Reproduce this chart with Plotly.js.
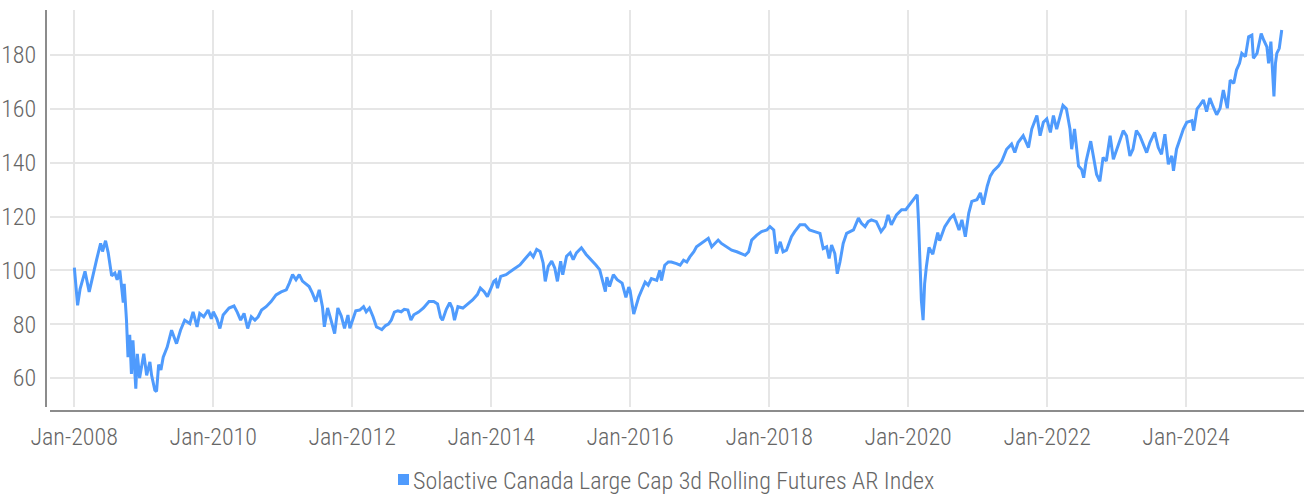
<!DOCTYPE html>
<html><head><meta charset="utf-8">
<script src="https://cdn.plot.ly/plotly-3.0.1.min.js"></script>
<style>html,body{margin:0;padding:0;background:#fff}#chart{width:1304px;height:495px}</style>
</head><body><div id="chart"></div>
<script>
const seriesName = "Solactive Canada Large Cap 3d Rolling Futures AR Index";

const dates = [
 "2008-01-02","2008-01-19","2008-02-01","2008-02-27","2008-03-20","2008-04-10","2008-04-28","2008-05-19","2008-05-29","2008-06-14","2008-06-28","2008-07-16","2008-08-02","2008-08-14","2008-08-28","2008-09-15","2008-09-20","2008-10-02","2008-10-10","2008-10-19","2008-10-28","2008-11-05","2008-11-20","2008-11-28","2008-12-10",
 "2009-01-01","2009-01-16","2009-02-02","2009-02-11","2009-02-28","2009-03-09","2009-03-20","2009-04-01","2009-04-13","2009-05-04","2009-05-27","2009-06-22","2009-07-13","2009-08-04","2009-08-31","2009-09-17","2009-10-08","2009-10-22","2009-11-12","2009-12-05","2009-12-22",
 "2010-01-01","2010-01-20","2010-02-05","2010-02-22","2010-03-25","2010-04-20","2010-05-07","2010-05-25","2010-06-12","2010-07-01","2010-07-20","2010-08-08","2010-08-25","2010-09-12","2010-10-06","2010-11-01","2010-11-27","2010-12-24",
 "2011-01-20","2011-02-05","2011-02-22","2011-03-12","2011-03-29","2011-04-15","2011-05-02","2011-05-20","2011-06-06","2011-06-24","2011-07-12","2011-07-29","2011-08-08","2011-08-25","2011-09-12","2011-10-01","2011-10-18","2011-11-05","2011-11-22","2011-12-10","2011-12-20",
 "2012-01-05","2012-01-20","2012-02-10","2012-03-01","2012-03-15","2012-04-01","2012-04-20","2012-05-08","2012-05-25","2012-06-05","2012-06-25","2012-07-10","2012-07-25","2012-08-10","2012-08-28","2012-09-15","2012-10-01","2012-10-20","2012-11-05","2012-11-20","2012-12-15",
 "2013-01-10","2013-02-08","2013-03-05","2013-03-25","2013-04-10","2013-04-20","2013-05-10","2013-05-28","2013-06-10","2013-06-22","2013-07-10","2013-08-05","2013-09-01","2013-09-25","2013-10-20","2013-11-05","2013-11-25","2013-12-12","2013-12-31",
 "2014-01-15","2014-01-25","2014-02-03","2014-02-20","2014-03-20","2014-04-25","2014-06-01","2014-06-25","2014-07-25","2014-08-10","2014-08-28","2014-09-15","2014-10-01","2014-10-12","2014-10-28","2014-11-15","2014-12-01","2014-12-15",
 "2015-01-01","2015-01-12","2015-02-01","2015-02-20","2015-03-08","2015-03-25","2015-04-20","2015-05-15","2015-06-10","2015-07-05","2015-07-25","2015-08-24","2015-09-01","2015-09-15","2015-10-05","2015-10-25","2015-11-20","2015-12-10","2015-12-25",
 "2016-01-01","2016-01-20","2016-02-05","2016-02-15","2016-03-01","2016-03-20","2016-04-05","2016-04-22","2016-05-20","2016-06-05","2016-06-14","2016-07-01","2016-07-20","2016-08-05","2016-09-01","2016-09-20","2016-10-08","2016-10-25","2016-11-10","2016-12-01","2016-12-15",
 "2017-01-10","2017-02-08","2017-02-15","2017-03-05","2017-03-20","2017-04-08","2017-04-25","2017-05-22","2017-06-18","2017-07-15","2017-08-10","2017-08-28","2017-09-15","2017-10-01","2017-10-28","2017-11-22","2017-12-20",
 "2018-01-05","2018-01-25","2018-02-08","2018-02-28","2018-03-15","2018-04-02","2018-04-28","2018-05-15","2018-06-12","2018-07-08","2018-08-01","2018-08-28","2018-09-25","2018-10-12","2018-10-30","2018-11-12","2018-11-25","2018-12-12","2018-12-25",
 "2019-01-08","2019-01-25","2019-02-12","2019-03-01","2019-03-20","2019-04-15","2019-05-01","2019-05-20","2019-06-05","2019-06-22","2019-07-18","2019-08-12","2019-09-01","2019-09-18","2019-10-05","2019-11-01","2019-11-28","2019-12-20",
 "2020-01-10","2020-01-28","2020-02-18","2020-02-25","2020-03-05","2020-03-11","2020-03-20","2020-03-28","2020-04-06","2020-04-20","2020-05-10","2020-06-05","2020-06-15","2020-07-12","2020-08-10","2020-08-28","2020-09-25","2020-10-10","2020-10-28","2020-11-15","2020-12-01","2020-12-28",
 "2021-01-15","2021-01-30","2021-02-20","2021-03-08","2021-03-25","2021-04-20","2021-05-08","2021-06-02","2021-06-28","2021-07-15","2021-08-01","2021-08-28","2021-09-25","2021-10-12","2021-11-08","2021-11-25","2021-12-12","2021-12-30",
 "2022-01-18","2022-02-03","2022-02-20","2022-03-08","2022-03-25","2022-04-12","2022-05-01","2022-05-10","2022-05-25","2022-06-15","2022-07-01","2022-07-12","2022-07-25","2022-08-18","2022-09-01","2022-09-18","2022-10-05","2022-10-22","2022-11-08","2022-11-28","2022-12-15",
 "2023-01-08","2023-02-05","2023-02-22","2023-03-12","2023-03-28","2023-04-15","2023-05-03","2023-05-20","2023-06-08","2023-06-25","2023-07-20","2023-08-08","2023-08-25","2023-09-12","2023-09-30","2023-10-18","2023-10-27","2023-11-12","2023-12-01","2023-12-18",
 "2024-01-05","2024-02-01","2024-02-10","2024-02-28","2024-03-15","2024-04-01","2024-04-18","2024-05-05","2024-05-22","2024-06-10","2024-06-28","2024-07-15","2024-08-05","2024-08-20","2024-09-08","2024-09-22","2024-10-08","2024-10-20","2024-11-08","2024-11-25","2024-12-12","2024-12-20",
 "2025-01-08","2025-01-30","2025-02-12","2025-03-01","2025-03-10","2025-03-22","2025-04-07","2025-04-15","2025-04-22","2025-05-05","2025-05-18"
];

const values = [
 101,87,93,99.6,92,99,104,110,107,111,106.5,98,99,96.5,100,88,95,81.5,67.75,76,61.5,74,56,69,60,
 69,61,66,61,55.5,55,65,63,67.75,71.5,77.75,72.75,77.75,81.5,80.25,84.6,79,84,82.75,85.25,82,
 84.6,82,78.4,83.4,86,86.75,84.5,81.5,84,78.4,82.75,81.5,82.75,85.25,86.5,88.4,90.9,92,
 92.75,95.25,98.4,96.5,98.4,96,95,94,91.5,88.4,92.75,86.5,79,86,81.5,76.5,86,83,78.4,83.4,78.5,
 82,85,85.25,86.5,84.6,86,82.75,79,78.4,78,79.5,80,81.5,84.5,85,84.6,85.5,85.25,81.5,83.5,84.5,
 86,88.4,88.4,87.5,82.5,81.5,85.5,88,86,81.5,86.5,86,87.5,89,91,93.4,92.1,90.25,93.4,
 96,96.5,93.4,97.75,98.4,100.25,102,104,106.5,105,107.75,107,102.75,95.9,101.5,103.4,100.9,95.9,
 103.4,98.4,105.25,106.5,104,106.5,108.4,105.9,104,102,100.25,92.1,97.5,94,98.4,96.5,95.25,90,93.75,
 92.5,83.75,87.5,90,92.5,95.6,94.5,96.9,96.25,100,96.25,101.9,103.1,103.1,102.5,101.9,103.75,103.1,105,106.9,108.75,
 110,111.25,111.9,108.75,110,111.25,110,108.75,107.5,106.9,106.25,105.6,106.9,111.25,113.1,114.4,115,
 116.25,115,106.25,110.6,106.9,107.5,112.5,114.4,116.9,116.9,115,114.4,113.75,108.1,108.75,104.4,109.4,106.25,98.75,
 103.1,110,113.75,114.4,115,119.4,117.5,116.25,118.1,118.75,118.1,114.4,116.25,120.6,116.9,120.6,122.5,122.5,
 124.4,126.25,128.1,118,102.5,88.75,81.5,95,101.25,108.5,106,114,111,116.25,119.4,120.6,115,118.75,112.5,121.25,125.6,126.25,
 128.75,124.4,131.25,135,136.9,138.75,140.6,145,146.9,143.75,147.5,150,145.6,152.5,157.5,150,155,156.25,
 151.25,157.5,152.5,156.9,161.25,160,152.5,145,152.5,138.75,137.5,134.4,140.6,148,142.5,135.6,133.1,141.9,140.6,150,141.25,
 146.25,151.9,150,142.5,145,151.9,150,146.9,143.75,147.5,151.25,145.6,143.1,150.6,139.4,142.5,137,145,148.75,152.5,
 155,155.6,151.9,160,161.5,163.3,159,164,160.9,157.8,160.2,167,160.2,170.7,169.5,174.4,176.9,180.6,179.4,186.8,187.4,178.8,
 180.6,188,185.6,183,176.9,185,164.6,176.9,180.6,182.5,189.3
];

const yTicks = [60, 80, 100, 120, 140, 160, 180];
const xTickDates = ["2008-01-01","2010-01-01","2012-01-01","2014-01-01","2016-01-01","2018-01-01","2020-01-01","2022-01-01","2024-01-01"];
const xTickLabels = ["Jan-2008","Jan-2010","Jan-2012","Jan-2014","Jan-2016","Jan-2018","Jan-2020","Jan-2022","Jan-2024"];

const FONT = "'Roboto Condensed', 'Liberation Sans Narrow', 'DejaVu Sans Condensed', sans-serif";
const TEXT_COLOR = "#666666";
const LINE_COLOR = "#4f9bfd";
const GRID = "#e6e6e6";
const AXIS = "#8c8c8c";

const W = 1304, H = 495, ML = 46, MB = 84, MT = 10;
const PW = W - ML, PH = H - MT - MB;
const px = x => (x - ML) / PW;
const py = y => (H - MB - y) / PH;

const tf = { family: FONT, size: 24, color: TEXT_COLOR, weight: 300 };

const trace = {
  type: "scatter", mode: "lines", name: seriesName,
  x: dates, y: values,
  line: { color: LINE_COLOR, width: 3 },
  showlegend: false, hoverinfo: "x+y"
};

const layout = {
  width: W, height: H,
  margin: { l: ML, r: 0, t: MT, b: MB },
  paper_bgcolor: "#fff", plot_bgcolor: "#fff",
  showlegend: false,
  font: tf,
  xaxis: {
    type: "date", range: ["2007-08-27", "2025-09-12"],
    domain: [4 / PW, 1], anchor: "free", position: 0,
    tickmode: "array", tickvals: xTickDates, ticktext: xTickLabels,
    showgrid: true, gridcolor: GRID, gridwidth: 2,
    showline: true, linecolor: AXIS, linewidth: 2,
    ticks: "", ticklabelstandoff: 4,
    tickfont: tf,
    zeroline: false, fixedrange: true
  },
  yaxis: {
    range: [49.23, 196.72],
    domain: [4 / PH, 1], anchor: "free", position: 0,
    tickmode: "array", tickvals: yTicks,
    showgrid: true, gridcolor: GRID, gridwidth: 2,
    showline: true, linecolor: AXIS, linewidth: 2,
    ticks: "", ticklabelstandoff: 4,
    tickfont: tf,
    zeroline: false, fixedrange: true
  },
  shapes: [{
    type: "rect", xref: "paper", yref: "paper",
    x0: px(398), x1: px(409), y0: py(485), y1: py(474),
    fillcolor: LINE_COLOR, line: { width: 0 }
  }],
  annotations: [{
    xref: "paper", yref: "paper", x: px(411), y: py(481),
    xanchor: "left", yanchor: "middle", showarrow: false,
    text: seriesName,
    font: tf
  }]
};

Plotly.newPlot("chart", [trace], layout, { displayModeBar: false, staticPlot: true });
</script>
</body></html>
